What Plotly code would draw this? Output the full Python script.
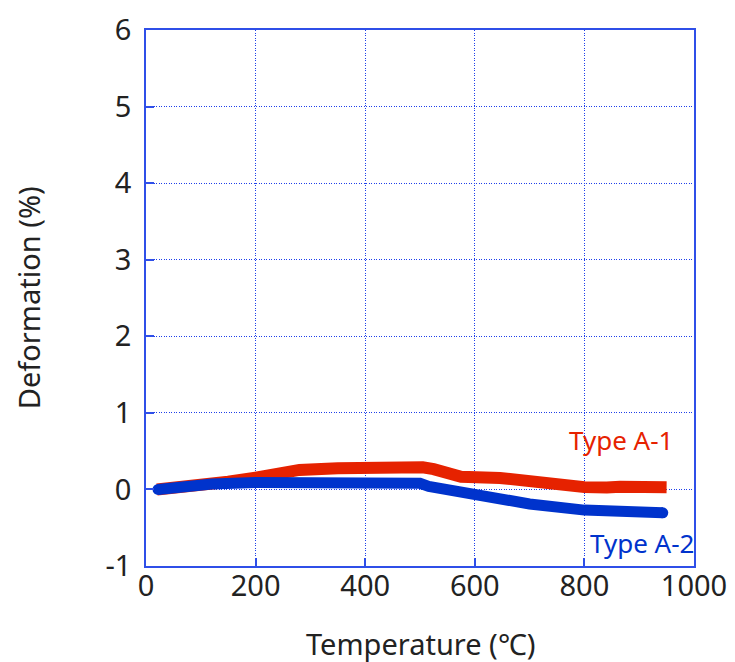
import plotly.graph_objects as go

# Data
temp_a1 = [20, 60, 100, 150, 200, 250, 280, 350, 400, 450, 505, 525, 575, 646, 700, 737, 800, 841, 865, 950]
def_a1 = [0.0, 0.02, 0.05, 0.10, 0.155, 0.22, 0.255, 0.275, 0.285, 0.29, 0.29, 0.265, 0.165, 0.15, 0.11, 0.06, 0.03, 0.025, 0.035, 0.03]

temp_a2 = [22, 60, 120, 200, 280, 400, 440, 490, 500, 516, 604, 646, 700, 800, 900, 943]
def_a2 = [0.0, 0.035, 0.07, 0.09, 0.087, 0.087, 0.065, 0.065, 0.08, 0.04, -0.07, -0.11, -0.19, -0.27, -0.30, -0.305]

x_ticks = [0, 200, 400, 600, 800, 1000]
y_ticks = [-1, 0, 1, 2, 3, 4, 5, 6]
y_tick_text = ["-1", "0", "1", "2", "3", "4", "5", "6"]

RED = "#E62200"
BLUE = "#0033CC"
AX = "#2F4FE8"
GRID = "#1F3FEA"
FONT = "Noto Sans"
TXT = "#222222"

fig = go.Figure()
fig.add_trace(go.Scatter(x=temp_a1, y=def_a1, mode="lines",
                         line=dict(color=RED, width=12), name="Type A-1"))
end_sizes = [11 if i in (0, len(temp_a2) - 1) else 0 for i in range(len(temp_a2))]
fig.add_trace(go.Scatter(x=temp_a2, y=def_a2, mode="lines+markers",
                         line=dict(color=BLUE, width=11),
                         marker=dict(color=BLUE, size=end_sizes, opacity=1, line=dict(width=0)),
                         name="Type A-2"))

fig.add_annotation(x=0.966, y=0.65, xref="x domain", yref="y", text="Type A-1",
                   showarrow=False, xanchor="right", yanchor="middle",
                   font=dict(family=FONT, size=26, color=RED))
fig.add_annotation(x=1.004, y=-0.70, xref="x domain", yref="y", text="Type A-2",
                   showarrow=False, xanchor="right", yanchor="middle",
                   font=dict(family=FONT, size=26, color=BLUE))

# axis titles
fig.add_annotation(x=0.5, y=-0.1437, xref="paper", yref="paper", text="Temperature (℃)",
                   showarrow=False, xanchor="center", yanchor="middle",
                   font=dict(family=FONT, size=29, color=TXT))
fig.add_annotation(x=-0.215, y=0.5, xref="paper", yref="paper", text="Deformation (%)",
                   showarrow=False, xanchor="center", yanchor="middle", textangle=-90,
                   font=dict(family=FONT, size=29, color=TXT))

fig.update_layout(
    width=735, height=662,
    margin=dict(l=138, r=49, t=22, b=104),
    paper_bgcolor="white", plot_bgcolor="white",
    showlegend=False,
    font=dict(family=FONT, color=TXT),
)
fig.update_xaxes(range=[0, 1000], tickvals=x_ticks, automargin=False,
                 showgrid=True, gridcolor=GRID, griddash="1px,1.5px", gridwidth=1.2,
                 showline=True, linecolor=AX, linewidth=1.5, mirror=True,
                 ticks="inside", ticklen=8, tickcolor=AX, tickwidth=1.5,
                 ticklabelstandoff=-7,
                 tickfont=dict(size=29, family=FONT, color=TXT),
                 zeroline=False)
fig.update_yaxes(range=[-1, 6], tickvals=y_ticks, ticktext=y_tick_text, automargin=False,
                 showgrid=True, gridcolor=GRID, griddash="1px,1.5px", gridwidth=1.2,
                 showline=True, linecolor=AX, linewidth=1.5, mirror=True,
                 ticks="inside", ticklen=8, tickcolor=AX, tickwidth=1.5,
                 ticklabelstandoff=7,
                 tickfont=dict(size=29, family=FONT, color=TXT),
                 zeroline=False)

fig.write_html("out.html")
